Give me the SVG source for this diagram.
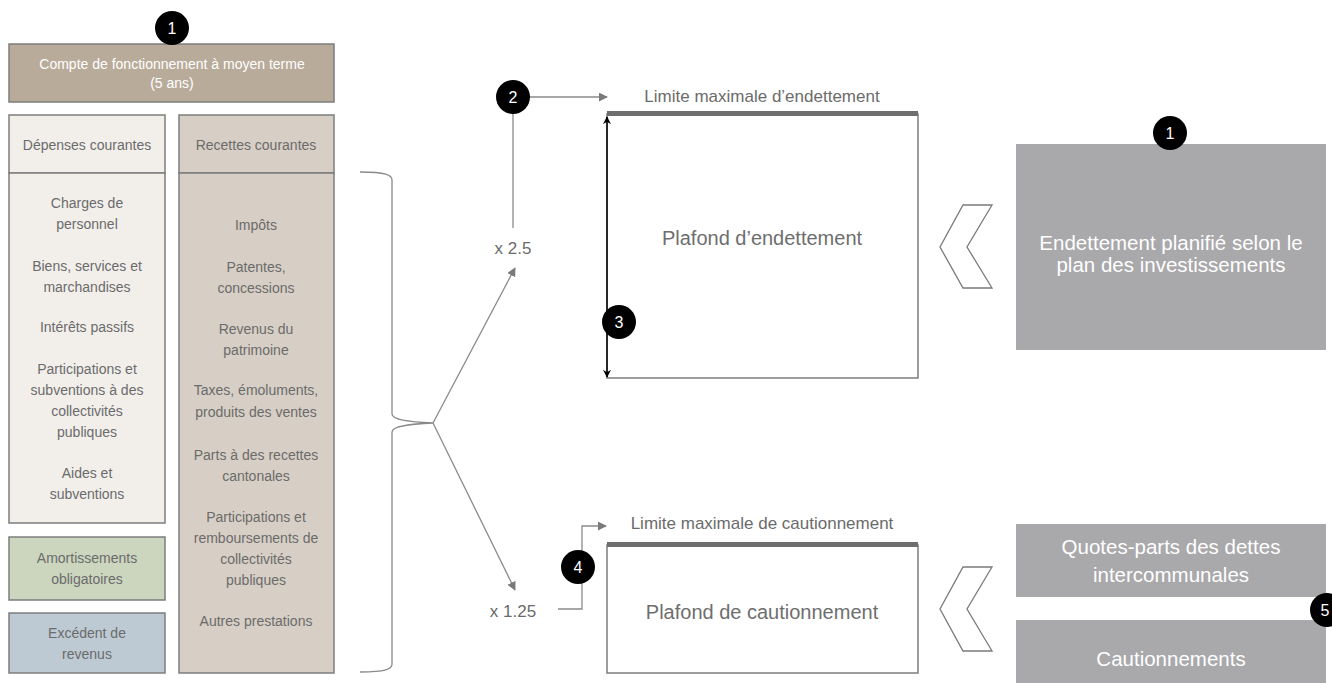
<svg xmlns="http://www.w3.org/2000/svg" width="1332" height="683" viewBox="0 0 1332 683">
<style>
text{font-family:"Liberation Sans",Arial,sans-serif;text-anchor:middle}
.t14{font-size:14px;fill:#6b6b6b}
.w14{font-size:14px;fill:#ffffff}
.box{stroke:#7d7d7d;stroke-width:1.5}
.lim{font-size:17px;fill:#6b6b6b}
.pl{font-size:20px;fill:#6e6e6e}
.rt{font-size:20.5px;fill:#ffffff}
.badge circle{fill:#000}
.badge text{font-size:16px;fill:#fff}
.conn{stroke:#8a8a8a;stroke-width:1.3;fill:none}
.chev{fill:#fff;stroke:#7a7a7a;stroke-width:1.3}
.gray{fill:#a9a8ab}
</style>
<defs>
<marker id="ah" viewBox="0 0 10 10" refX="9" refY="5" markerWidth="9" markerHeight="9" markerUnits="userSpaceOnUse" orient="auto"><path d="M0,0 L10,5 L0,10 z" fill="#7a7a7a"/></marker>
<marker id="ab" viewBox="0 0 10 10" refX="9" refY="5" markerWidth="8" markerHeight="8" markerUnits="userSpaceOnUse" orient="auto-start-reverse"><path d="M0,0 L10,5 L0,10 L3,5 z" fill="#000"/></marker>
</defs>

<g id="compte">
<rect x="9" y="44" width="325" height="58" fill="#b8ab9a" class="box"/>
<text class="w14" x="172" y="69">Compte de fonctionnement à moyen terme</text>
<text class="w14" x="172" y="88">(5 ans)</text>
</g>

<g id="depenses-header">
<rect x="9" y="115" width="156" height="58" fill="#f2efeb" class="box"/>
<text class="t14" x="87" y="150">Dépenses courantes</text>
</g>
<g id="recettes-header">
<rect x="179" y="115" width="155" height="58" fill="#d7cfc5" class="box"/>
<text class="t14" x="256" y="150">Recettes courantes</text>
</g>

<g id="depenses">
<rect x="9" y="173" width="156" height="350" fill="#f2efeb" class="box"/>
<text class="t14" x="87" y="208">Charges de</text>
<text class="t14" x="87" y="229">personnel</text>
<text class="t14" x="87" y="271">Biens, services et</text>
<text class="t14" x="87" y="292">marchandises</text>
<text class="t14" x="87" y="332">Intérêts passifs</text>
<text class="t14" x="87" y="374">Participations et</text>
<text class="t14" x="87" y="395">subventions à des</text>
<text class="t14" x="87" y="416">collectivités</text>
<text class="t14" x="87" y="437">publiques</text>
<text class="t14" x="87" y="478">Aides et</text>
<text class="t14" x="87" y="499">subventions</text>
</g>

<g id="recettes">
<rect x="179" y="173" width="155" height="500" fill="#d7cfc5" class="box"/>
<text class="t14" x="256" y="230">Impôts</text>
<text class="t14" x="256" y="272">Patentes,</text>
<text class="t14" x="256" y="293">concessions</text>
<text class="t14" x="256" y="334">Revenus du</text>
<text class="t14" x="256" y="355">patrimoine</text>
<text class="t14" x="256" y="395">Taxes, émoluments,</text>
<text class="t14" x="256" y="417">produits des ventes</text>
<text class="t14" x="256" y="460">Parts à des recettes</text>
<text class="t14" x="256" y="481">cantonales</text>
<text class="t14" x="256" y="522">Participations et</text>
<text class="t14" x="256" y="543">remboursements de</text>
<text class="t14" x="256" y="564">collectivités</text>
<text class="t14" x="256" y="585">publiques</text>
<text class="t14" x="256" y="626">Autres prestations</text>
</g>

<g id="amortissements">
<rect x="9" y="537" width="156" height="63" fill="#ccd6bf" class="box"/>
<text class="t14" x="87" y="563">Amortissements</text>
<text class="t14" x="87" y="584">obligatoires</text>
</g>
<g id="excedent">
<rect x="9" y="613" width="156" height="60" fill="#bdcad3" class="box"/>
<text class="t14" x="87" y="638">Excédent de</text>
<text class="t14" x="87" y="659">revenus</text>
</g>

<g id="mult1"><text class="lim" x="513" y="254">x 2.5</text></g>
<g id="mult2"><text class="lim" x="513" y="617">x 1.25</text></g>

<g id="plafond-endettement">
<text class="lim" x="762" y="102">Limite maximale d’endettement</text>
<rect x="607" y="114" width="311" height="264" fill="#fff" stroke="#7d7d7d" stroke-width="1.5"/>
<rect x="607" y="111" width="311" height="5" fill="#6e6e6e"/>
<text class="pl" x="762" y="245">Plafond d’endettement</text>
</g>

<g id="plafond-cautionnement">
<text class="lim" x="762" y="529">Limite maximale de cautionnement</text>
<rect x="607" y="545" width="311" height="128" fill="#fff" stroke="#7d7d7d" stroke-width="1.5"/>
<rect x="607" y="542" width="311" height="5" fill="#6e6e6e"/>
<text class="pl" x="762" y="619">Plafond de cautionnement</text>
</g>

<g id="chevron1"><polygon class="chev" points="963,205 992,205 967,247 992,288 963,288 940,247"/></g>
<g id="chevron2"><polygon class="chev" points="963,567 992,567 967,609 992,651 963,651 940,609"/></g>

<g id="endettement-planifie">
<rect class="gray" x="1016" y="144" width="310" height="206"/>
<text class="rt" x="1171" y="250">Endettement planifié selon le</text>
<text class="rt" x="1171" y="272">plan des investissements</text>
</g>

<g id="quotes-parts">
<rect class="gray" x="1016" y="524" width="310" height="73"/>
<text class="rt" x="1171" y="554">Quotes-parts des dettes</text>
<text class="rt" x="1171" y="582">intercommunales</text>
</g>
<g id="cautionnements">
<rect class="gray" x="1016" y="620" width="310" height="63"/>
<text class="rt" x="1171" y="666">Cautionnements</text>
</g>

<g id="connectors">
<path class="conn" d="M360,172 C386,172 392,175 392,180 L392,414 C392,420 410,422 433,423 C410,424 392,426 392,432 L392,664 C392,669 386,672 360,672"/>
<line class="conn" x1="433" y1="423" x2="515" y2="268" marker-end="url(#ah)"/>
<line class="conn" x1="433" y1="423" x2="515" y2="590" marker-end="url(#ah)"/>
<line class="conn" x1="513" y1="228" x2="513" y2="110"/>
<line class="conn" x1="528" y1="97" x2="607" y2="97" marker-end="url(#ah)"/>
<path class="conn" d="M558,609 L582,609 L582,526 L606,526" marker-end="url(#ah)"/>
<line x1="607" y1="117" x2="607" y2="377" stroke="#000" stroke-width="1.5" marker-start="url(#ab)" marker-end="url(#ab)"/>
</g>

<g id="badge1a" class="badge"><circle cx="172" cy="28" r="17"/><text x="172" y="34">1</text></g>
<g id="badge2" class="badge"><circle cx="513" cy="97" r="17"/><text x="513" y="103">2</text></g>
<g id="badge3" class="badge"><circle cx="619" cy="322" r="17"/><text x="619" y="328">3</text></g>
<g id="badge4" class="badge"><circle cx="578" cy="567" r="17"/><text x="578" y="573">4</text></g>
<g id="badge1b" class="badge"><circle cx="1170" cy="133" r="17"/><text x="1170" y="139">1</text></g>
<g id="badge5" class="badge"><circle cx="1327" cy="610" r="17"/><text x="1325" y="616">5</text></g>
</svg>
